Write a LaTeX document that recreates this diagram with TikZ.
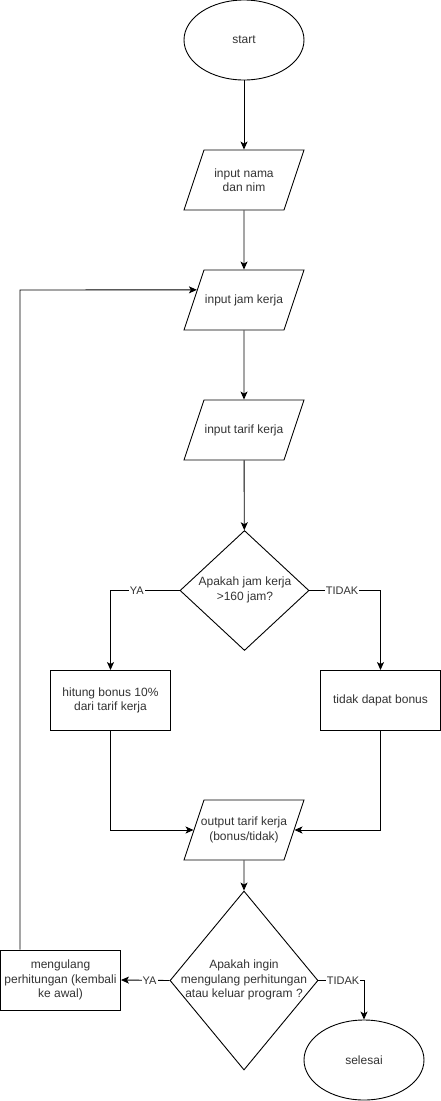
\documentclass[tikz,border=0pt]{standalone}
\usepackage{fontspec}
\setmainfont{Liberation Sans}
\usetikzlibrary{shapes.geometric, arrows.meta, calc}
\tikzstyle{startstop} = [ellipse, minimum width=120pt, minimum height=80pt, inner sep=0pt, text centered, draw=black]
\tikzstyle{io} = [trapezium, trapezium left angle=71.57, trapezium right angle=108.43, text width=80pt, text height=60pt, text depth=0pt, inner sep=0pt, draw=black]
\tikzstyle{process} = [rectangle, minimum width=120pt, minimum height=60pt, inner sep=1pt, align=center, draw=black]
\tikzstyle{decision} = [diamond, inner sep=0pt, draw=black]
\tikzstyle{txt} = [align=center, inner sep=0pt]
\tikzstyle{lbl} = [fill=white, inner sep=1pt, font=\fontsize{11}{13}\selectfont]
\tikzstyle{arrow} = [-{Stealth[length=8pt, width=7pt, inset=2pt]}]

\begin{document}
\begin{tikzpicture}[x=1pt, y=-1pt, line width=0.9pt, font=\fontsize{12}{14.4}\selectfont, text=black!80]
\useasboundingbox (0,0) rectangle (441,1101);

\node at (244, 40) (start) [startstop] {start};
\node at (244, 180) (nama) [io] {};
\node at (nama) (namatxt) [txt] {input nama\\dan nim};
\node at (244, 300) (jam) [io] {};
\node at (jam) (jamtxt) [txt] {input jam kerja};
\node at (244, 430) (tarif) [io] {};
\node at (tarif) (tariftxt) [txt] {input tarif kerja};
\node at (244.5, 590.5) (cek) [decision, minimum width=129pt, minimum height=120pt] {};
\node at (245, 590) (cektxt) [txt] {Apakah jam kerja\\>160 jam?};
\node at (110.5, 700.5) (bonus) [process] {hitung bonus 10\%\\dari tarif kerja};
\node at (380.5, 700.5) (nobonus) [process] {tidak dapat bonus};
\node at (244, 830) (output) [io] {};
\node at (output) (outputtxt) [txt] {output tarif kerja\\(bonus/tidak)};
\node at (244, 980.5) (ulang) [decision, minimum width=148pt, minimum height=179pt] {};
\node at (244, 980) (ulangtxt) [txt] {Apakah ingin\\mengulang perhitungan\\atau keluar program ?};
\node at (60.5, 980) (kembali) [process] {mengulang\\perhitungan (kembali\\ke awal)};
\node at (364, 1060) (selesai) [startstop] {selesai};
\coordinate (balik) at (20, 290);

\draw [arrow] (start) -- (nama);
\draw [arrow] (nama) -- (jam);
\draw [arrow] (jam) -- (tarif);
\draw [arrow] (tarif) -- (cek);
\draw [arrow] (cek.west) -| node[lbl, pos=0.31] (ya1) {YA} (bonus.north);
\draw [arrow] (cek.east) -| node[lbl, pos=0.23] (tidak1) {TIDAK} (nobonus.north);
\draw [arrow] (bonus.south) |- (output.west);
\draw [arrow] (nobonus.south) |- (output.east);
\draw [arrow] (output) -- (ulang);
\draw [arrow] (ulang.west) -- node[lbl, pos=0.41] (ya2) {YA} (kembali.east);
\draw [arrow] (ulang.east) -| node[lbl, pos=0.27] (tidak2) {TIDAK} (selesai.north);
\draw [arrow] (balik |- kembali.north) -- (balik) -- ($(jam.top left corner)!1/3!(jam.bottom left corner)$);

\end{tikzpicture}
\end{document}
